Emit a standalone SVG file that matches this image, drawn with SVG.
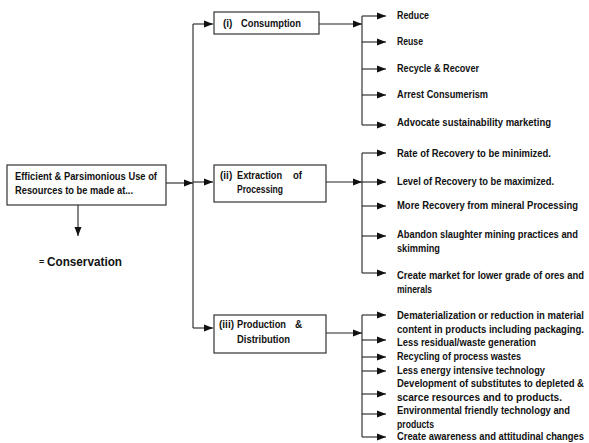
<svg xmlns="http://www.w3.org/2000/svg" width="589" height="443" viewBox="0 0 589 443">
  <defs>
    <marker id="arrow" markerUnits="userSpaceOnUse" markerWidth="10" markerHeight="9" refX="9" refY="4.5" orient="auto">
      <path d="M0,1 L9,4.5 L0,8 Z" fill="#111"/>
    </marker>
  </defs>
  <style>
    text { font-family: "Liberation Sans", Arial, sans-serif; font-weight: bold; font-size: 10px; fill: #111; }
    .box { fill: #fff; stroke: #333; stroke-width: 1.2; }
    .ln { fill: none; stroke: #222; stroke-width: 1.1; }
    .arr { fill: none; stroke: #222; stroke-width: 1.1; marker-end: url(#arrow); }
    .big { font-size: 13.5px; }
  </style>
  <rect width="589" height="443" fill="#fff"/>

  <!-- connectors -->
  <g id="connectors">
    <!-- trunk -->
    <line class="arr" x1="166" y1="183" x2="193" y2="183"/>
    <line class="arr" x1="78" y1="205" x2="78" y2="236"/>
    <polyline class="ln" points="193,24 193,328"/>
    <line class="arr" x1="193" y1="24" x2="213" y2="24"/>
    <line class="arr" x1="193" y1="182" x2="213" y2="182"/>
    <line class="arr" x1="193" y1="328" x2="213" y2="328"/>

    <!-- consumption branches -->
    <line class="arr" x1="319" y1="24" x2="362" y2="24"/>
    <line class="ln" x1="362" y1="16" x2="362" y2="125"/>
    <line class="arr" x1="362" y1="16" x2="386" y2="16"/>
    <line class="arr" x1="362" y1="42" x2="386" y2="42"/>
    <line class="arr" x1="362" y1="69" x2="386" y2="69"/>
    <line class="arr" x1="362" y1="95" x2="386" y2="95"/>
    <line class="arr" x1="362" y1="125" x2="386" y2="125"/>

    <!-- extraction branches -->
    <line class="arr" x1="326" y1="182" x2="362" y2="182"/>
    <line class="ln" x1="362" y1="153" x2="362" y2="273"/>
    <line class="arr" x1="362" y1="153" x2="386" y2="153"/>
    <line class="arr" x1="362" y1="182" x2="386" y2="182"/>
    <line class="arr" x1="362" y1="206" x2="386" y2="206"/>
    <line class="arr" x1="362" y1="236" x2="386" y2="236"/>
    <line class="arr" x1="362" y1="273" x2="386" y2="273"/>

    <!-- production branches -->
    <line class="arr" x1="326" y1="333" x2="362" y2="333"/>
    <line class="ln" x1="362" y1="315" x2="362" y2="437"/>
    <line class="arr" x1="362" y1="315" x2="386" y2="315"/>
    <line class="arr" x1="362" y1="340" x2="386" y2="340"/>
    <line class="arr" x1="362" y1="357" x2="386" y2="357"/>
    <line class="arr" x1="362" y1="371" x2="386" y2="371"/>
    <line class="arr" x1="362" y1="394" x2="386" y2="394"/>
    <line class="arr" x1="362" y1="414" x2="386" y2="414"/>
    <line class="arr" x1="362" y1="437" x2="386" y2="437"/>
  </g>

  <!-- root -->
  <g id="root">
    <rect class="box" x="7" y="165" width="159" height="40"/>
    <text x="15" y="180" textLength="142" lengthAdjust="spacingAndGlyphs">Efficient &amp; Parsimonious Use of</text>
    <text x="15" y="194" textLength="118" lengthAdjust="spacingAndGlyphs">Resources to be made at...</text>
  </g>

  <g id="conservation">
    <text x="39" y="265" style="font-size:9px">=</text>
    <text class="big" x="47" y="266" textLength="75" lengthAdjust="spacingAndGlyphs">Conservation</text>
  </g>

  <!-- stage nodes -->
  <g id="consumption">
    <rect class="box" x="214" y="12" width="105" height="22"/>
    <text x="223" y="27">(i)</text>
    <text x="241" y="27" textLength="60" lengthAdjust="spacingAndGlyphs">Consumption</text>
  </g>

  <g id="extraction">
    <rect class="box" x="214" y="165" width="112" height="37"/>
    <text x="220" y="179">(ii)</text>
    <text x="237" y="179" textLength="45" lengthAdjust="spacingAndGlyphs">Extraction</text>
    <text x="293" y="179" textLength="9" lengthAdjust="spacingAndGlyphs">of</text>
    <text x="237" y="193" textLength="46" lengthAdjust="spacingAndGlyphs">Processing</text>
  </g>

  <g id="production">
    <rect class="box" x="214" y="315" width="112" height="38"/>
    <text x="219" y="328">(iii)</text>
    <text x="237" y="328" textLength="49" lengthAdjust="spacingAndGlyphs">Production</text>
    <text x="295" y="328">&amp;</text>
    <text x="237" y="343" textLength="53" lengthAdjust="spacingAndGlyphs">Distribution</text>
  </g>

  <!-- outcome lists: a narrowed column starting at x=397 -->
  <g transform="matrix(0.82,0,0,1,71.46,0)">
    <g id="consumption-items">
      <text x="397" y="19" textLength="39" lengthAdjust="spacingAndGlyphs">Reduce</text>
      <text x="397" y="45" textLength="31.7" lengthAdjust="spacingAndGlyphs">Reuse</text>
      <text x="397" y="72" textLength="100" lengthAdjust="spacingAndGlyphs">Recycle &amp; Recover</text>
      <text x="397" y="98" textLength="111" lengthAdjust="spacingAndGlyphs">Arrest Consumerism</text>
      <text x="397" y="126" textLength="187.8" lengthAdjust="spacingAndGlyphs">Advocate sustainability marketing</text>
    </g>

    <g id="extraction-items">
      <text x="397" y="157" textLength="187.8" lengthAdjust="spacingAndGlyphs">Rate of Recovery to be minimized.</text>
      <text x="397" y="185" textLength="191.5" lengthAdjust="spacingAndGlyphs">Level of Recovery to be maximized.</text>
      <text x="397" y="209" textLength="220.7" lengthAdjust="spacingAndGlyphs">More Recovery from mineral Processing</text>
      <text x="397" y="238" textLength="220.7" lengthAdjust="spacingAndGlyphs">Abandon slaughter mining practices and</text>
      <text x="397" y="252" textLength="52.4" lengthAdjust="spacingAndGlyphs">skimming</text>
      <text x="397" y="279" textLength="228" lengthAdjust="spacingAndGlyphs">Create market for lower grade of ores and</text>
      <text x="397" y="293" textLength="42.7" lengthAdjust="spacingAndGlyphs">minerals</text>
    </g>

    <g id="production-items">
      <text x="397" y="319" textLength="228" lengthAdjust="spacingAndGlyphs">Dematerialization or reduction in material</text>
      <text x="397" y="333" textLength="228" lengthAdjust="spacingAndGlyphs">content in products including packaging.</text>
      <text x="397" y="346" textLength="169.5" lengthAdjust="spacingAndGlyphs">Less residual/waste generation</text>
      <text x="397" y="360" textLength="151.2" lengthAdjust="spacingAndGlyphs">Recycling of process wastes</text>
      <text x="397" y="374" textLength="180.5" lengthAdjust="spacingAndGlyphs">Less energy intensive technology</text>
      <text x="397" y="387" textLength="228" lengthAdjust="spacingAndGlyphs">Development of substitutes to depleted &amp;</text>
      <text x="397" y="401" textLength="201.2" lengthAdjust="spacingAndGlyphs">scarce resources and to products.</text>
      <text x="397" y="414" textLength="211" lengthAdjust="spacingAndGlyphs">Environmental friendly technology and</text>
      <text x="397" y="428" textLength="45.1" lengthAdjust="spacingAndGlyphs">products</text>
      <text x="397" y="440" textLength="228" lengthAdjust="spacingAndGlyphs">Create awareness and attitudinal changes</text>
    </g>
  </g>
</svg>
